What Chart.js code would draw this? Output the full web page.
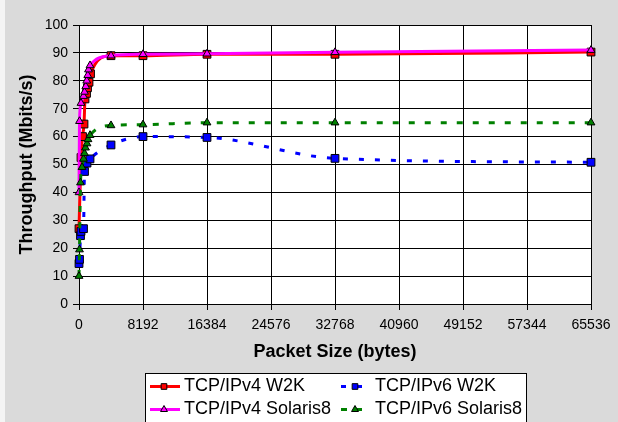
<!DOCTYPE html>
<html>
<head>
<meta charset="utf-8">
<script src="https://cdn.jsdelivr.net/npm/chart.js@4"></script>
<style>
  html, body { margin: 0; padding: 0; background: #fff; }
  canvas { display: block; }
</style>
</head>
<body>
<canvas id="myChart" width="618" height="422"></canvas>
<script>
// Throughput vs packet size

// x = packet size (bytes), y = throughput (Mbits/s)
const v4W2kSizes = [1, 256, 448, 640, 768, 960, 1088, 1280, 1472, 4096, 8192, 16384, 32768, 65536];
const v4W2kTput  = [27, 52.5, 60, 64.5, 73.5, 75.5, 77.5, 79.5, 82.5, 89, 89, 89.5, 89.5, 90.3];

const v6W2kSizes = [1, 64, 192, 256, 576, 704, 1024, 1408, 4096, 8192, 16384, 32768, 65536];
const v6W2kTput  = [14.5, 16, 24.5, 26, 27, 47.5, 50.5, 52, 57, 60, 59.7, 52.2, 50.8];

const v4SolSizes = [1, 64, 256, 576, 704, 864, 992, 1120, 1216, 1408, 4096, 8192, 16384, 32768, 65536];
const v4SolTput  = [40, 65.5, 72, 74.5, 76, 78, 80, 82, 84, 85.5, 89, 89.5, 89.7, 90.2, 91];

const v6SolSizes = [1, 64, 192, 384, 576, 704, 832, 1024, 1152, 1408, 4096, 8192, 16384, 32768, 65536];
const v6SolTput  = [10, 19.5, 43.5, 49, 52, 54, 56, 57.5, 59, 60.5, 64, 64.3, 65, 65, 65];

const seriesNames = ['TCP/IPv4 W2K', 'TCP/IPv6 W2K', 'TCP/IPv4 Solaris8', 'TCP/IPv6 Solaris8'];

const xMax = 65536;
const xStep = 8192;
const yMax = 100;
const yStep = 10;

function toPoints(xs, ys) {
    return xs.map((x, i) => ({x: x, y: ys[i]}));
}

Chart.defaults.font.family = 'Arial, "Liberation Sans", sans-serif';
Chart.defaults.color = '#000';

// grey page + white plot area
const background = {
    id: 'background',
    beforeDraw(chart) {
        const ctx = chart.ctx;
        const a = chart.chartArea;
        ctx.save();
        ctx.fillStyle = '#dadada';
        ctx.fillRect(0, 0, chart.width, chart.height);
        ctx.fillStyle = '#f4f4f4';
        ctx.fillRect(0, 0, 5, chart.height);
        ctx.fillStyle = '#fff';
        ctx.fillRect(a.left, a.top, a.right - a.left, a.bottom - a.top);
        ctx.restore();
    }
};

// Excel style legend box, two columns
const legendBox = {
    id: 'legendBox',
    afterDraw(chart) {
        const ctx = chart.ctx;
        ctx.save();
        ctx.fillStyle = '#fff';
        ctx.fillRect(145, 373, 381, 60);
        ctx.strokeStyle = '#000';
        ctx.lineWidth = 1;
        ctx.strokeRect(145.5, 373.5, 381, 60);

        const cols = [{x0: 150, x1: 180, mx: 164, tx: 184}, {x0: 341, x1: 362, mx: 355, tx: 375}];
        const rows = [386, 409];
        ctx.font = '18px Arial, "Liberation Sans", sans-serif';
        ctx.textBaseline = 'middle';
        chart.data.datasets.forEach((ds, i) => {
            const c = cols[i % 2];
            const y = rows[Math.floor(i / 2)];
            ctx.save();
            ctx.strokeStyle = ds.borderColor;
            ctx.lineWidth = ds.borderWidth;
            ctx.setLineDash(ds.borderDash || []);
            ctx.beginPath();
            ctx.moveTo(c.x0, y + 0.5);
            ctx.lineTo(c.x1, y + 0.5);
            ctx.stroke();
            ctx.restore();

            ctx.fillStyle = ds.pointBackgroundColor;
            ctx.strokeStyle = '#000';
            ctx.lineWidth = 1;
            Chart.helpers.drawPoint(ctx, {pointStyle: ds.pointStyle, radius: 4, borderWidth: 1, rotation: 0}, c.mx, y + 0.5);

            ctx.fillStyle = '#000';
            ctx.fillText(seriesNames[i], c.tx, y);
        });
        ctx.restore();
    }
};

const ctx = document.getElementById('myChart');

const myChart = new Chart(ctx, {
    type: 'line',
    data: {
        datasets: [{
            label: seriesNames[0],
            data: toPoints(v4W2kSizes, v4W2kTput),
            borderColor: '#ff0000',
            borderWidth: 3,
            pointStyle: 'rect',
            pointRadius: 5.5,
            pointBackgroundColor: '#ff0000',
            pointBorderColor: '#000',
            pointBorderWidth: 1,
            order: 4
        },
        {
            label: seriesNames[1],
            data: toPoints(v6W2kSizes, v6W2kTput),
            borderColor: '#0000ff',
            borderWidth: 3,
            borderDash: [5, 11],
            pointStyle: 'rect',
            pointRadius: 5.5,
            pointBackgroundColor: '#0000ff',
            pointBorderColor: '#000',
            pointBorderWidth: 1,
            order: 3
        },
        {
            label: seriesNames[2],
            data: toPoints(v4SolSizes, v4SolTput),
            borderColor: '#ff00ff',
            borderWidth: 3,
            pointStyle: 'triangle',
            pointRadius: 4.5,
            pointBackgroundColor: '#ff00ff',
            pointBorderColor: '#000',
            pointBorderWidth: 1,
            order: 2
        },
        {
            label: seriesNames[3],
            data: toPoints(v6SolSizes, v6SolTput),
            borderColor: '#008000',
            borderWidth: 3,
            borderDash: [6, 10],
            pointStyle: 'triangle',
            pointRadius: 4.5,
            pointBackgroundColor: '#008000',
            pointBorderColor: '#000',
            pointBorderWidth: 1,
            order: 1
        }]
    },
    options: {
        responsive: false,
        animation: false,
        clip: false,
        cubicInterpolationMode: 'monotone',
        layout: {
            padding: {left: 0, right: 27, top: 25, bottom: 0}
        },
        scales: {
            x: {
                type: 'linear',
                min: 0,
                max: xMax,
                afterFit: function(scale) { scale.height = 118; },
                ticks: {
                    stepSize: xStep,
                    maxRotation: 0,
                    autoSkip: false,
                    padding: 7,
                    font: {size: 14},
                    callback: function(val) { return String(val); }
                },
                grid: {
                    color: '#000',
                    lineWidth: 1,
                    tickLength: 6
                },
                border: {color: '#000'},
                title: {
                    display: true,
                    text: 'Packet Size (bytes)',
                    font: {size: 18, weight: 'bold'},
                    padding: {top: 0, bottom: 59}
                }
            },
            y: {
                min: 0,
                max: yMax,
                afterFit: function(scale) { scale.width = 79; },
                ticks: {
                    stepSize: yStep,
                    padding: 5,
                    font: {size: 14},
                    callback: function(val) { return String(val); }
                },
                grid: {
                    color: '#000',
                    lineWidth: 1,
                    tickLength: 6
                },
                border: {color: '#000'},
                title: {
                    display: true,
                    text: 'Throughput (Mbits/s)',
                    font: {size: 18, weight: 'bold'},
                    padding: {top: 16, bottom: 0}
                }
            }
        },
        plugins: {
            legend: {display: false},
            tooltip: {enabled: false}
        }
    },
    plugins: [background, legendBox]
});
</script>
</body>
</html>
